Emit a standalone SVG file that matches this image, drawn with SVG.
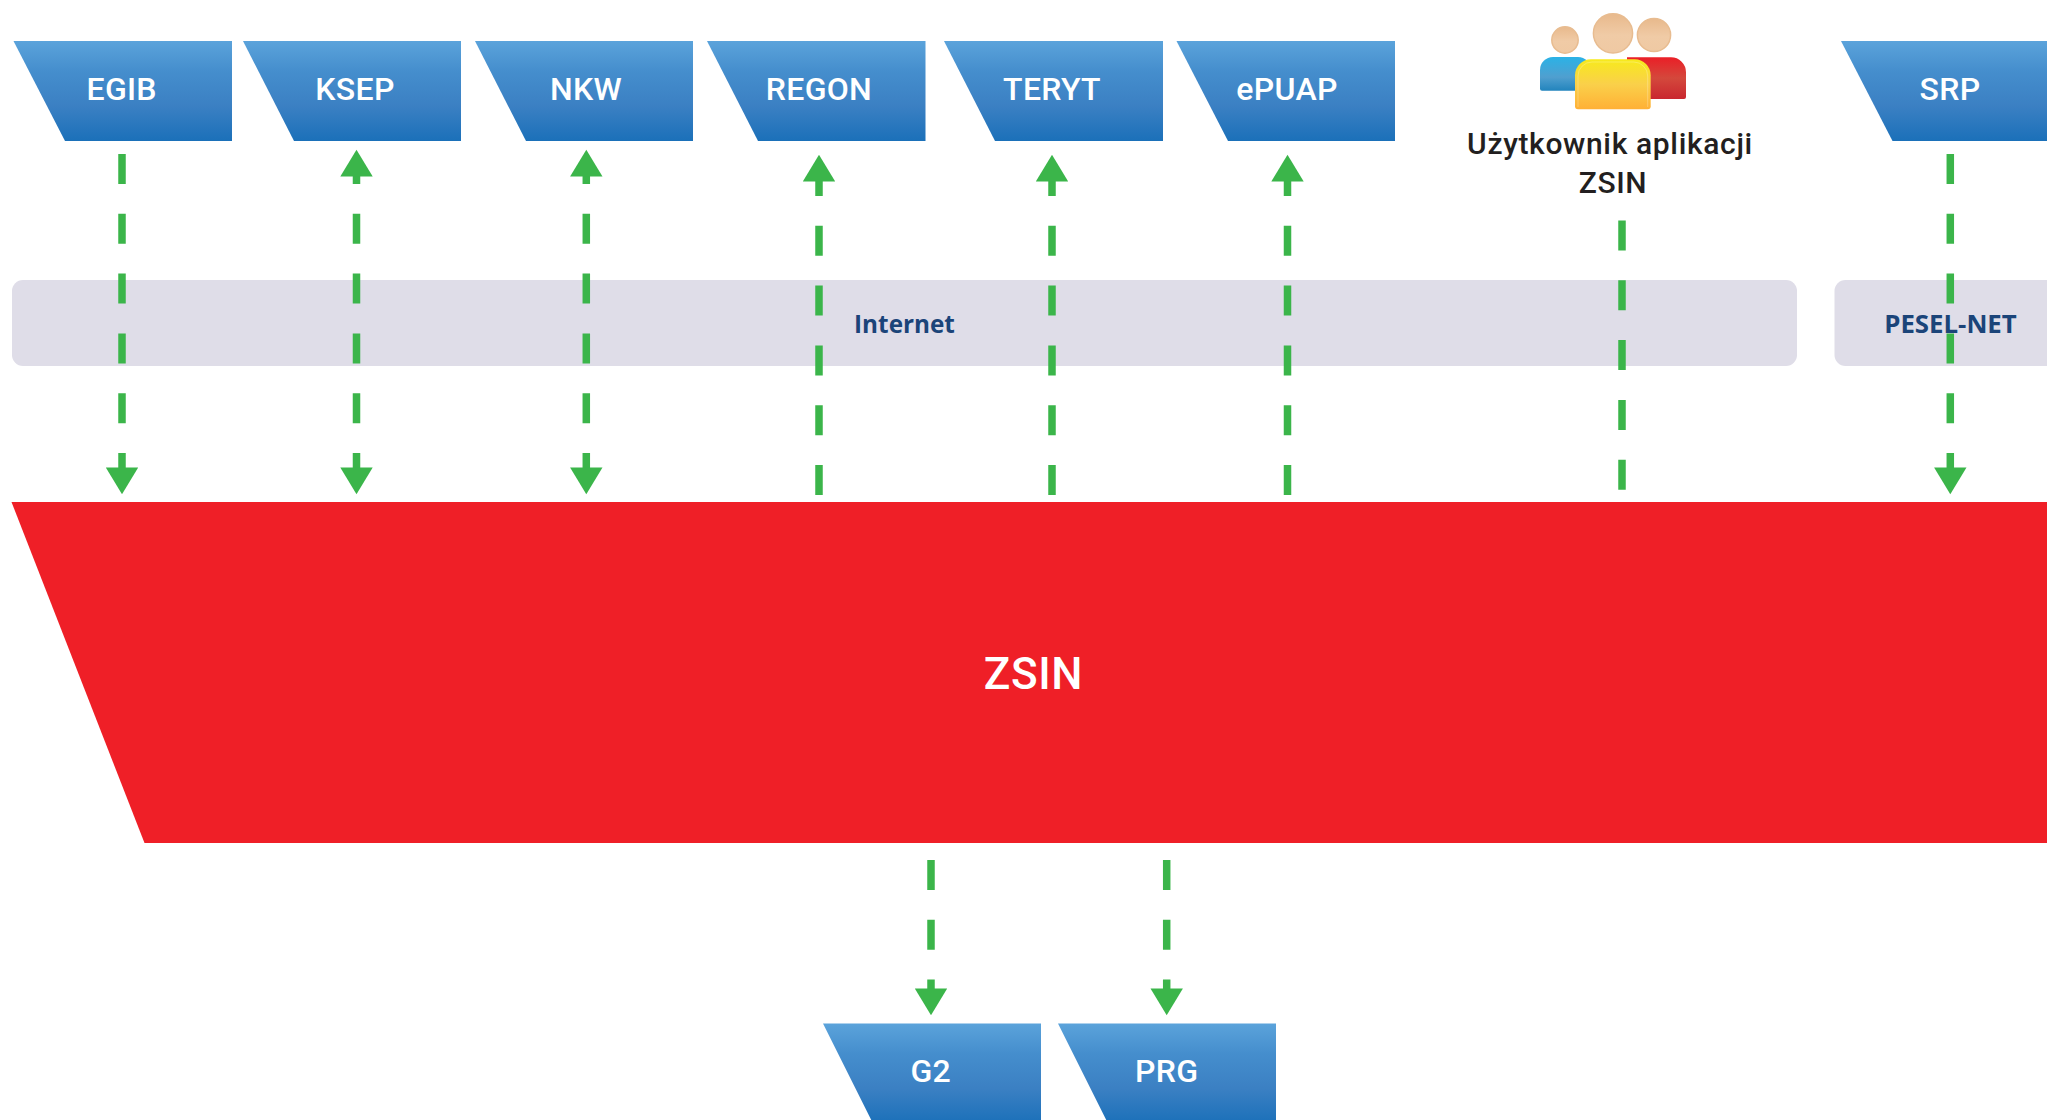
<svg xmlns="http://www.w3.org/2000/svg" width="2047" height="1120" viewBox="0 0 2047 1120">
<style>
.sys{fill:url(#blue)}
.lbl{font-family:Roboto,"Liberation Sans",sans-serif;font-size:32px;font-weight:500;fill:#fff;text-anchor:middle;letter-spacing:.3px}
.net{fill:#dfdde8}
.netl{font-family:"Open Sans","Liberation Sans",sans-serif;font-size:24.300px;font-weight:700;fill:#1b4479;text-anchor:middle}
.usr{font-family:Roboto,"Liberation Sans",sans-serif;font-size:30px;font-weight:500;fill:#231f20;text-anchor:middle;letter-spacing:.65px}
.c{fill:none;stroke:#3bb54a;stroke-width:7.500;stroke-dasharray:30 29.800}
.e{marker-end:url(#ah)}
.s{marker-start:url(#ah)}
.head{stroke:#e8bc90;stroke-width:1.500;fill:url(#skin)}
</style>
<defs>
<linearGradient id="blue" x1="0" y1="0" x2="0" y2="1"><stop offset="0" stop-color="#5ba3db"/><stop offset=".3" stop-color="#458ecd"/><stop offset=".65" stop-color="#3b80c3"/><stop offset="1" stop-color="#1b70b9"/></linearGradient>
<linearGradient id="skin" x1="0" y1="0" x2="0" y2="1"><stop offset="0" stop-color="#e8b98c"/><stop offset=".55" stop-color="#f0cba6"/><stop offset="1" stop-color="#efc9a3"/></linearGradient>
<linearGradient id="ub" x1="0" y1="0" x2="0" y2="1"><stop offset="0" stop-color="#2bb2e6"/><stop offset=".6" stop-color="#509fcf"/><stop offset="1" stop-color="#2284bd"/></linearGradient>
<linearGradient id="ur" x1="0" y1="0" x2="0" y2="1"><stop offset="0" stop-color="#ea1f27"/><stop offset=".5" stop-color="#d4483c"/><stop offset="1" stop-color="#c9272f"/></linearGradient>
<linearGradient id="uy" x1="0" y1="0" x2="0" y2="1"><stop offset="0" stop-color="#f7ea1c"/><stop offset=".5" stop-color="#fad04a"/><stop offset="1" stop-color="#ffb035"/></linearGradient>
<marker id="ah" markerUnits="userSpaceOnUse" markerWidth="30" markerHeight="34" refX="0.500" refY="16.200" orient="auto-start-reverse" overflow="visible"><polygon points="0,0 26.800,16.200 0,32.400" fill="#3bb54a"/></marker>
</defs>
<rect width="2047" height="1120" fill="#fff"/>
<g id="internet"><rect class="net" x="12" y="280" width="1785" height="86" rx="11"/><text class="netl" x="904.500" y="333">Internet</text></g>
<g id="pesel-net"><rect class="net" x="1834.500" y="280" width="240" height="86" rx="11"/><text class="netl" x="1950.500" y="333" style="font-size:25.800px">PESEL-NET</text></g>
<g id="egib"><polygon class="sys" points="13.500,41 232,41 232,141 65,141"/><text class="lbl" x="121.700" y="99.700">EGIB</text></g>
<g id="ksep"><polygon class="sys" points="243,41 461,41 461,141 294,141"/><text class="lbl" x="355" y="99.700">KSEP</text></g>
<g id="nkw"><polygon class="sys" points="475,41 693,41 693,141 526,141"/><text class="lbl" x="586" y="99.700">NKW</text></g>
<g id="regon"><polygon class="sys" points="707,41 925.500,41 925.500,141 758,141"/><text class="lbl" x="819" y="99.700">REGON</text></g>
<g id="teryt"><polygon class="sys" points="944,41 1163,41 1163,141 995,141"/><text class="lbl" x="1052" y="99.700">TERYT</text></g>
<g id="epuap"><polygon class="sys" points="1176.500,41 1395,41 1395,141 1228,141"/><text class="lbl" x="1287" y="99.700">ePUAP</text></g>
<g id="srp"><polygon class="sys" points="1841,41 2060,41 2060,141 1892.500,141"/><text class="lbl" x="1950" y="99.700">SRP</text></g>
<g id="user">
<circle class="head" cx="1565" cy="40" r="13.200"/><circle class="head" cx="1654" cy="35" r="16.600"/><circle class="head" cx="1613" cy="33.300" r="19.600"/>
<path d="M1540 70a13 13 0 0 1 13-13h25a13 13 0 0 1 13 13v20.700h-49q-2 0-2-2z" fill="url(#ub)"/>
<path d="M1627 57.300h44a15 15 0 0 1 15 15v24.700q0 2-2 2h-57z" fill="url(#ur)"/>
<path d="M1575 75.300a16 16 0 0 1 16-16h43.700a16 16 0 0 1 16 16v31q0 3-3 3h-69.700q-3 0-3-3z" fill="url(#uy)"/>
<path d="M1578 107v-31a14 14 0 0 1 14-14h41.700a14 14 0 0 1 14 14v31" fill="none" stroke="#fff" stroke-opacity=".25" stroke-width="1"/>
<text class="usr" x="1610" y="153.500">Użytkownik aplikacji</text><text class="usr" x="1613" y="193">ZSIN</text>
</g>
<g id="zsin"><polygon points="11.500,502 2047,502 2047,843 144.500,843" fill="#ef1f27"/><text x="1033.500" y="688.500" font-family="Roboto,'Liberation Sans',sans-serif" font-size="44" font-weight="500" fill="#fff" text-anchor="middle" letter-spacing=".6">ZSIN</text></g>
<g id="g2"><polygon class="sys" points="823,1023.500 1041,1023.500 1041,1123.500 873,1123.500"/><text class="lbl" x="930.700" y="1082.300">G2</text></g>
<g id="prg"><polygon class="sys" points="1058,1023.500 1276,1023.500 1276,1123.500 1108,1123.500"/><text class="lbl" x="1166.700" y="1082.300">PRG</text></g>
<g id="connectors">
<path class="c e" d="M122 154V468"/>
<path class="c s e" stroke-dashoffset="22" d="M356.500 176V468"/>
<path class="c s e" stroke-dashoffset="22" d="M586.300 176V468"/>
<path class="c s" stroke-dashoffset="15" d="M819 181V495"/>
<path class="c s" stroke-dashoffset="15" d="M1052 181V495"/>
<path class="c s" stroke-dashoffset="15" d="M1287.500 181V495"/>
<path class="c" d="M1622 220.500V490"/>
<path class="c e" d="M1950.300 154V468"/>
<path class="c e" d="M931 860V989"/>
<path class="c e" d="M1166.700 860V989"/>
</g>
</svg>
